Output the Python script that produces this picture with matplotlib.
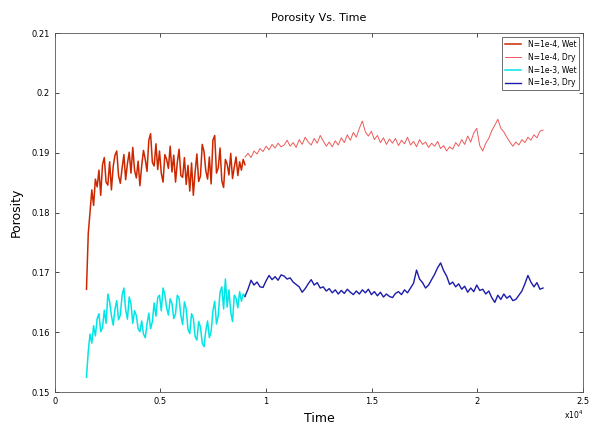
import matplotlib
matplotlib.use('Agg')
import matplotlib.pyplot as plt
import numpy

# time ranges (seconds) of each run
wet_start, wet_end = 1500, 9000
dry_start, dry_end = 9000, 23100

# N=1e-4 runs
red_wet = [
    0.1672, 0.1765, 0.1801, 0.1838, 0.1812, 0.1856, 0.1843, 0.1871, 0.1829, 0.1880,
    0.1892, 0.1851, 0.1846, 0.1885, 0.1838, 0.1877, 0.1896, 0.1903, 0.1862, 0.1849,
    0.1874, 0.1897, 0.1855, 0.1882, 0.1901, 0.1866, 0.1909, 0.1871, 0.1858, 0.1886,
    0.1845, 0.1878, 0.1904, 0.1889, 0.1869, 0.1921, 0.1932, 0.1884, 0.1878, 0.1915,
    0.1872, 0.1903, 0.1866, 0.1851, 0.1897, 0.1889, 0.1874, 0.1911, 0.1868, 0.1896,
    0.1851, 0.1884, 0.1906, 0.1862, 0.1859, 0.1892, 0.1847, 0.1879, 0.1836, 0.1883,
    0.1829, 0.1868, 0.1898, 0.1852, 0.1861, 0.1914, 0.1902, 0.1870, 0.1856, 0.1893,
    0.1848, 0.1921, 0.1929, 0.1866, 0.1875, 0.1908, 0.1853, 0.1842, 0.1889, 0.1881,
    0.1863, 0.1899, 0.1857, 0.1876, 0.1893, 0.1862, 0.1885, 0.1871, 0.1889, 0.1880]
red_dry = [
    0.1893, 0.1899, 0.1892, 0.1903, 0.1898, 0.1907, 0.1902, 0.1911, 0.1905, 0.1914,
    0.1908, 0.1916, 0.1910, 0.1913, 0.1921, 0.1911, 0.1917, 0.1909, 0.1922, 0.1914,
    0.1926, 0.1918, 0.1913, 0.1924, 0.1916, 0.1929, 0.1920, 0.1911, 0.1918, 0.1910,
    0.1920, 0.1913, 0.1925, 0.1917, 0.1930, 0.1921, 0.1934, 0.1926, 0.1941, 0.1953,
    0.1935, 0.1928, 0.1936, 0.1922, 0.1929, 0.1917, 0.1925, 0.1914, 0.1923, 0.1916,
    0.1924, 0.1912, 0.1921, 0.1915, 0.1926, 0.1913, 0.1919, 0.1910, 0.1922, 0.1914,
    0.1918, 0.1909, 0.1916, 0.1911, 0.1919, 0.1907, 0.1912, 0.1903, 0.1910, 0.1906,
    0.1917, 0.1911, 0.1922, 0.1914, 0.1928, 0.1918, 0.1933, 0.1941, 0.1912, 0.1903,
    0.1916, 0.1924, 0.1937, 0.1946, 0.1956, 0.1941, 0.1935, 0.1926, 0.1918, 0.1911,
    0.1918, 0.1913, 0.1922, 0.1917, 0.1926, 0.1921, 0.1930, 0.1925, 0.1936, 0.1938]

# N=1e-3 runs
cyan_wet = [
    0.1525, 0.1568, 0.1597, 0.1582, 0.1611, 0.1594, 0.1623, 0.1631, 0.1601, 0.1608,
    0.1637, 0.1615, 0.1664, 0.1651, 0.1628, 0.1612, 0.1639, 0.1653, 0.1621, 0.1629,
    0.1662, 0.1674, 0.1638, 0.1622, 0.1659, 0.1647, 0.1615, 0.1636, 0.1628, 0.1606,
    0.1601, 0.1619, 0.1597, 0.1591, 0.1614, 0.1632, 0.1606, 0.1618, 0.1649, 0.1627,
    0.1658, 0.1662, 0.1636, 0.1674, 0.1663, 0.1641, 0.1629, 0.1656, 0.1648, 0.1623,
    0.1631, 0.1662, 0.1657, 0.1628, 0.1613, 0.1651, 0.1639, 0.1605, 0.1598, 0.1631,
    0.1624, 0.1593, 0.1587, 0.1618, 0.1609, 0.1582, 0.1576, 0.1603, 0.1619, 0.1591,
    0.1602, 0.1636, 0.1652, 0.1614, 0.1628, 0.1667, 0.1676, 0.1639, 0.1689, 0.1642,
    0.1671, 0.1634, 0.1618, 0.1662, 0.1657, 0.1641, 0.1668, 0.1652, 0.1664, 0.1660]
blue_dry = [
    0.1660, 0.1672, 0.1687, 0.1679, 0.1684, 0.1676, 0.1675, 0.1686, 0.1695, 0.1688,
    0.1693, 0.1687, 0.1696, 0.1694, 0.1689, 0.1691, 0.1684, 0.1680, 0.1676, 0.1667,
    0.1673, 0.1681, 0.1688, 0.1679, 0.1683, 0.1674, 0.1676, 0.1669, 0.1673, 0.1666,
    0.1671, 0.1664, 0.1670, 0.1665, 0.1672, 0.1667, 0.1663, 0.1669, 0.1664, 0.1671,
    0.1666, 0.1672, 0.1663, 0.1668, 0.1661, 0.1667, 0.1659, 0.1664, 0.1660, 0.1658,
    0.1665, 0.1668, 0.1663, 0.1671, 0.1666, 0.1674, 0.1682, 0.1704, 0.1689, 0.1683,
    0.1674, 0.1679, 0.1688, 0.1697, 0.1708, 0.1716, 0.1703, 0.1694, 0.1680, 0.1684,
    0.1676, 0.1681, 0.1672, 0.1677, 0.1667, 0.1674, 0.1668, 0.1679, 0.1670, 0.1672,
    0.1664, 0.1669, 0.1658, 0.1650, 0.1662, 0.1655, 0.1664, 0.1657, 0.1661, 0.1653,
    0.1655, 0.1662, 0.1669, 0.1681, 0.1695, 0.1684, 0.1676, 0.1683, 0.1672, 0.1674]

labels = ['N=1e-4, Wet', 'N=1e-4, Dry', 'N=1e-3, Wet', 'N=1e-3, Dry']
xticks = [0, 5000, 10000, 15000, 20000, 25000]
xticklabels = ['0', '0.5', '1', '1.5', '2', '2.5']
yticks = [0.15, 0.16, 0.17, 0.18, 0.19, 0.20, 0.21]
yticklabels = ['0.15', '0.16', '0.17', '0.18', '0.19', '0.2', '0.21']

t_wet = numpy.linspace(wet_start, wet_end, len(red_wet))
t_dry = numpy.linspace(dry_start, dry_end, len(red_dry))

fig = plt.figure(figsize=(5.89, 4.30), dpi=100)
ax = fig.add_axes([0.093, 0.088, 0.897, 0.835])
ax.plot(t_wet, red_wet, color='#cc2800', lw=1.1, label=labels[0])
ax.plot(t_dry, red_dry, color='#ee5a5a', lw=0.7, label=labels[1])
ax.plot(t_wet, cyan_wet, color='#00e6e6', lw=1.1, label=labels[2])
ax.plot(t_dry, blue_dry, color='#1c1caa', lw=1.0, label=labels[3])

ax.set_xlim(0, 25000)
ax.set_ylim(0.15, 0.21)
ax.set_xticks(xticks)
ax.set_xticklabels(xticklabels)
ax.set_yticks(yticks)
ax.set_yticklabels(yticklabels)
ax.tick_params(direction='in', top=True, right=True, labelsize=6, length=3, width=0.5)
for s in ax.spines.values():
    s.set_linewidth(0.6)
    s.set_color('#555555')

ax.set_title('Porosity Vs. Time', fontsize=8, pad=9)
ax.set_xlabel('Time', fontsize=9, labelpad=4)
ax.set_ylabel('Porosity', fontsize=9, labelpad=6)
ax.text(1.0, -0.045, r'x10$^4$', transform=ax.transAxes, fontsize=5.5, ha='right', va='top')

leg = ax.legend(loc='upper right', fontsize=5.5, fancybox=False, borderaxespad=0.5,
                handlelength=2.2, labelspacing=0.5, framealpha=1)
leg.get_frame().set_edgecolor('#555555')
leg.get_frame().set_linewidth(0.6)

fig.savefig('out.png', dpi=100)
plt.close()
